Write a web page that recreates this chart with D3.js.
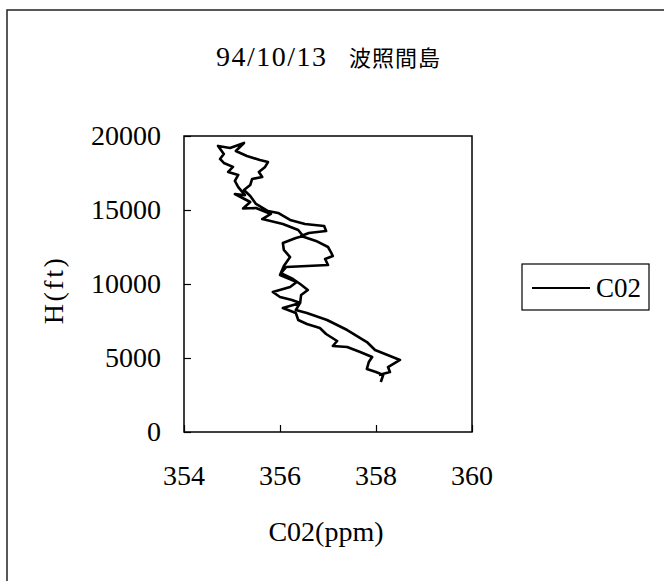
<!DOCTYPE html>
<html>
<head>
<meta charset="utf-8">
<script src="https://cdn.jsdelivr.net/npm/d3@7"></script>
<style>
  body { margin: 0; background: #fff; }
  text { font-family: "Liberation Serif", serif; fill: #000; }
</style>
</head>
<body>
<svg id="chart" width="664" height="581"></svg>
<script>
const titleDate = '94/10/13'
const titlePlace = '波照間島'
const seriesName = 'C02'
const xTicks = [354, 356, 358, 360]
const yTicks = [0, 5000, 10000, 15000, 20000]

// flight profile, in the order the line is drawn
const co2 = [
  358.10, 358.15, 358.00, 357.81, 357.85, 357.92, 357.67, 357.40, 357.10, 357.19,
  356.96, 356.83, 356.56, 356.38, 356.33, 356.06, 356.42, 356.25, 356.00, 355.85,
  356.21, 356.35, 356.15, 356.00, 356.08, 356.21, 356.08, 356.06, 356.33, 356.48,
  356.38, 356.06, 355.63, 355.81, 355.50, 355.23, 355.38, 355.06, 355.27, 355.13,
  355.06, 355.13, 354.92, 355.02, 354.83, 354.75, 354.83, 354.71, 354.96, 355.25,
  355.08, 355.31, 355.58, 355.75, 355.69, 355.56, 355.63, 355.42, 355.38, 355.25,
  355.38, 355.50, 355.75, 355.96, 356.21, 356.52, 356.92, 356.96, 356.60, 356.44,
  356.75, 357.00, 357.06, 357.10, 356.94, 357.00, 356.13, 356.02, 356.27, 356.42,
  356.58, 356.44, 356.42, 356.33, 356.56, 356.98, 357.40, 357.81, 357.98, 358.50,
  358.25, 358.29, 358.06
]
const height = [
  3380, 3850, 4050, 4260, 4730, 5070, 5410, 5740, 5810, 6150,
  6620, 7030, 7300, 7570, 8040, 8380, 8720, 8920, 9120, 9460,
  9800, 10140, 10410, 10610, 11220, 11820, 12300, 12770, 13110, 13240,
  13650, 14050, 14390, 14730, 15140, 15100, 15540, 16080, 16000, 16550,
  16960, 17370, 17570, 17910, 18180, 18450, 18780, 19330, 19190, 19530,
  18990, 18650, 18380, 18240, 17910, 17570, 17230, 17100, 16690, 16350,
  15950, 15410, 14930, 14800, 14330, 14050, 13920, 13580, 13450, 13240,
  12910, 12500, 12160, 11890, 11690, 11280, 11150, 10740, 10340, 10000,
  9600, 9260, 8720, 8240, 8040, 7570, 6890, 6080, 5540, 4870,
  4390, 4050, 3850
]

const svg = d3.select('#chart')
const plot = { left: 184, right: 472, top: 136, bottom: 432 }

const x = d3.scaleLinear().domain([354, 360]).range([plot.left, plot.right])
const y = d3.scaleLinear().domain([0, 20000]).range([plot.bottom, plot.top])

// outer frame, only left and top show
svg.append('path')
  .attr('d', 'M7,581V10H664')
  .attr('fill', 'none').attr('stroke', '#222').attr('stroke-width', 1.5)

svg.append('text')
  .attr('y', 66)
  .call(t => t.append('tspan').attr('x', 216).style('font-size', '28px')
    .style('letter-spacing', '1.5px').text(titleDate))
  .call(t => t.append('tspan').attr('x', 349)
    .style('font-family', '"Noto Sans CJK JP"').style('font-size', '22px')
    .style('letter-spacing', '1px').text(titlePlace))

svg.append('rect')
  .attr('x', plot.left).attr('y', plot.top)
  .attr('width', plot.right - plot.left).attr('height', plot.bottom - plot.top)
  .attr('fill', 'none').attr('stroke', '#000').attr('stroke-width', 1.5)

svg.append('g')
  .attr('transform', `translate(0, ${plot.bottom})`)
  .call(d3.axisTop(x).tickValues(xTicks).tickSize(7).tickFormat(''))
  .call(g => g.select('.domain').remove())
  .call(g => g.selectAll('line').attr('stroke-width', 1.2))

svg.append('g')
  .attr('transform', `translate(${plot.left}, 0)`)
  .call(d3.axisRight(y).tickValues(yTicks).tickSize(7).tickFormat(''))
  .call(g => g.select('.domain').remove())
  .call(g => g.selectAll('line').attr('stroke-width', 1.2))

svg.selectAll('.xlabel').data(xTicks)
  .enter().append('text').attr('class', 'xlabel')
    .attr('x', d => x(d)).attr('y', 485)
    .attr('text-anchor', 'middle').style('font-size', '28px')
    .text(d => d)

svg.selectAll('.ylabel').data(yTicks)
  .enter().append('text').attr('class', 'ylabel')
    .attr('x', 161).attr('y', d => y(d) + 9)
    .attr('text-anchor', 'end').style('font-size', '28px')
    .text(d => d)

svg.append('text')
  .attr('x', 326).attr('y', 541)
  .attr('text-anchor', 'middle').style('font-size', '28px')
  .text('C02(ppm)')

svg.append('text')
  .attr('transform', 'translate(63, 290) rotate(-90)')
  .attr('text-anchor', 'middle').style('font-size', '28px')
  .style('letter-spacing', '2.5px')
  .text('H(ft)')

const line = d3.line().x(d => x(d[0])).y(d => y(d[1]))
svg.append('path')
  .datum(d3.zip(co2, height))
  .attr('d', line)
  .attr('fill', 'none').attr('stroke', '#000')
  .attr('stroke-width', 2.6).attr('stroke-linejoin', 'round')

// legend
const legend = svg.append('g')
legend.append('rect')
  .attr('x', 522).attr('y', 264).attr('width', 127).attr('height', 46)
  .attr('fill', '#fff').attr('stroke', '#000').attr('stroke-width', 1.2)
legend.append('line')
  .attr('x1', 532).attr('x2', 590).attr('y1', 288).attr('y2', 288)
  .attr('stroke', '#000').attr('stroke-width', 2)
legend.append('text')
  .attr('x', 596).attr('y', 297).style('font-size', '27px')
  .text(seriesName)
</script>
</body>
</html>
